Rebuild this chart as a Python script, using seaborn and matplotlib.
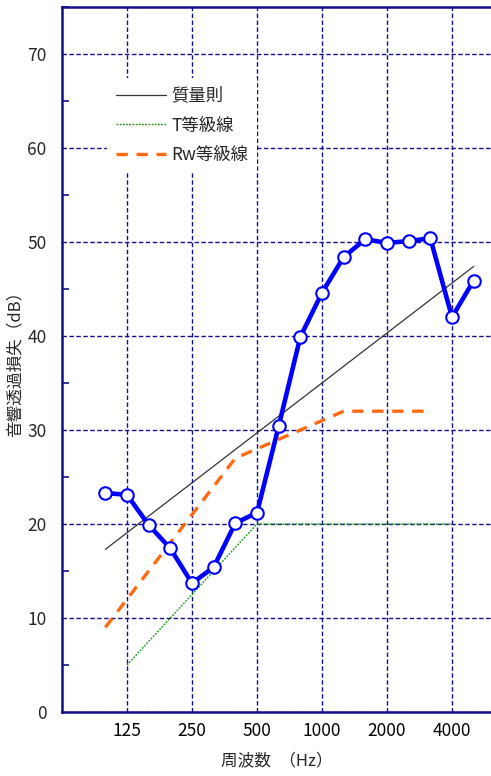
import numpy as np
import pandas as pd
import matplotlib
matplotlib.use("Agg")
import matplotlib.pyplot as plt
from matplotlib.ticker import FixedLocator, MultipleLocator
import seaborn as sns

# 1/3-octave band centre frequencies (Hz)
bands = [100, 125, 160, 200, 250, 315, 400, 500, 630, 800,
         1000, 1250, 1600, 2000, 2500, 3150, 4000, 5000]
# measured sound transmission loss (dB)
tl_measured = [23.3, 23.1, 19.9, 17.4, 13.7, 15.4, 20.1, 21.2, 30.4, 39.9,
               44.6, 48.4, 50.3, 49.9, 50.1, 50.4, 42.0, 45.9]
# mass law line
mass_bands = [100, 5000]
mass_tl = [17.3, 47.4]
# T-grade reference curve
t_bands = [125, 250, 500, 1000, 2000, 4000]
t_vals = [5, 12.5, 20, 20, 20, 20]
# Rw reference curve (ISO 717-1 shape, Rw = 28)
rw_bands = [100, 125, 160, 200, 250, 315, 400, 500, 630, 800,
            1000, 1250, 1600, 2000, 2500, 3150]
rw_vals = [9, 12, 15, 18, 21, 24, 27, 28, 29, 30, 31, 32, 32, 32, 32, 32]
# axis ticks
x_tick_bands = [125, 250, 500, 1000, 2000, 4000]
y_ticks = [0, 10, 20, 30, 40, 50, 60, 70]

legend_mass = "質量則"
legend_t = "T等級線"
legend_rw = "Rw等級線"
x_label = "周波数\u2002（Hz）"
y_label = "音響透過損失（dB）"

sns.set_theme(style="white")
plt.rcParams["font.family"] = ["Noto Sans CJK JP", "DejaVu Sans"]

band_pos = {b: i for i, b in enumerate(bands)}

def to_pos(freqs):
    return [band_pos[f] for f in freqs]

df_tl = pd.DataFrame({"x": to_pos(bands), "y": tl_measured})
df_mass = pd.DataFrame({"x": to_pos(mass_bands), "y": mass_tl})
df_t = pd.DataFrame({"x": to_pos(t_bands), "y": t_vals})
df_rw = pd.DataFrame({"x": to_pos(rw_bands), "y": rw_vals})

W, H = 491, 776
fig = plt.figure(figsize=(W / 100, H / 100), dpi=100)
ax = fig.add_axes([62 / W, 64 / H, 1 - 62 / W, (712 - 7) / H])

navy = "#10108a"

sns.lineplot(data=df_mass, x="x", y="y", ax=ax, color="#333333", lw=0.9,
             label=legend_mass, zorder=3)
sns.lineplot(data=df_t, x="x", y="y", ax=ax, color="#149614", lw=1.0,
             label=legend_t, zorder=3).lines[-1].set_dashes((1.3, 1.0))
sns.lineplot(data=df_rw, x="x", y="y", ax=ax, color="#ff6a10", lw=2.4,
             label=legend_rw, zorder=3).lines[-1].set_dashes((3.4, 2.6))
sns.lineplot(data=df_tl, x="x", y="y", ax=ax, color="#0000ff", lw=3.3,
             marker="o", markersize=9, markerfacecolor="white",
             markeredgecolor="#0000ff", markeredgewidth=1.5, zorder=4)

ax.set_xlim(-2, 17.8)
ax.set_ylim(0, 75)

ax.xaxis.set_major_locator(FixedLocator(to_pos(x_tick_bands)))
ax.set_xticklabels([str(b) for b in x_tick_bands])
ax.yaxis.set_major_locator(FixedLocator(y_ticks))
ax.yaxis.set_minor_locator(MultipleLocator(5))

ax.grid(True, which="major", color=navy, lw=1.0, ls=(0, (3.2, 1.8)), zorder=1)
ax.set_axisbelow(True)

for side in ("left", "bottom", "top"):
    ax.spines[side].set_color(navy)
    ax.spines[side].set_linewidth(1.8)
ax.spines["right"].set_visible(False)

ax.tick_params(axis="x", length=0, labelsize=12.5, pad=7, colors="black")
ax.tick_params(axis="y", which="major", length=0, labelsize=12.5, pad=11)
ax.tick_params(axis="y", which="minor", direction="in", length=5,
               width=1.2, color=navy, left=True)

ax.set_xlabel(x_label, fontsize=12, labelpad=9)
ax.set_ylabel(y_label, fontsize=12, labelpad=3)

leg = ax.legend(loc="upper left", bbox_to_anchor=(107 / W, 1 - 78 / H),
                bbox_transform=fig.transFigure, borderaxespad=0,
                frameon=True, facecolor="white", edgecolor="none",
                framealpha=1, fancybox=False, fontsize=12.5,
                handlelength=2.9, handletextpad=0.3, labelspacing=0.68,
                borderpad=0.5)
leg.set_zorder(10)

fig.savefig("out.png", dpi=100)
